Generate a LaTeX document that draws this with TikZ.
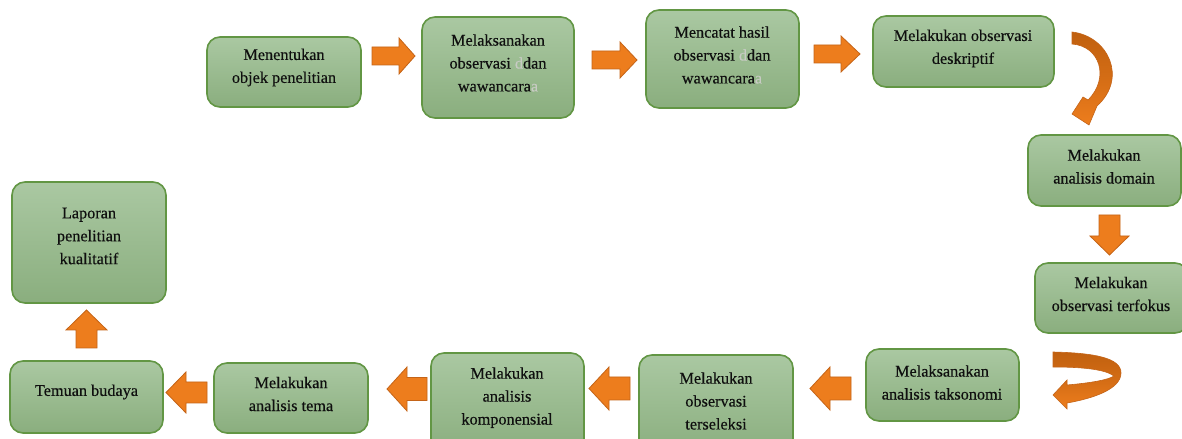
\documentclass[tikz,border=0pt]{standalone}
\usepackage{fontspec}
\setmainfont{Liberation Serif}
\newfontfamily\boxfont{Liberation Serif}[FakeBold=0.35]
\usetikzlibrary{calc}
\definecolor{boxtop}{RGB}{170,200,162}
\definecolor{boxbot}{RGB}{138,174,126}
\definecolor{boxline}{RGB}{98,150,68}
\definecolor{arrfill}{RGB}{237,125,29}
\definecolor{arrline}{RGB}{196,100,24}
\definecolor{arrdark}{RGB}{192,96,15}
\definecolor{txt}{RGB}{15,15,15}
\definecolor{ghost}{RGB}{200,203,196}
\newcommand\ghostch[1]{\textcolor{ghost}{#1}}
\begin{document}
\begin{tikzpicture}[x=1bp,y=-1bp,
 box/.style={draw=boxline, line width=1.6bp, rounded corners=13bp, top color=boxtop, bottom color=boxbot, inner sep=0pt},
 lbl/.style={text=txt, font=\boxfont\fontsize{16.3}{23}\selectfont, align=center, inner sep=0pt},
 arrowstyle/.style={draw=arrline, line width=0.8bp, fill=arrfill, line join=miter},
 curvestyle/.style={draw=arrline, line width=0.6bp, top color=arrdark, bottom color=arrfill, middle color=arrdark!55!arrfill},
 pics/barrow/.style n args={4}{code={\draw[arrowstyle] (0,0) -- (-#4,#2/2) -- (-#4,#3/2) -- (-#1,#3/2) -- (-#1,-#3/2) -- (-#4,-#3/2) -- (-#4,-#2/2) -- cycle;}}
]
\useasboundingbox (0,0) rectangle (1182,439);
\fill[white] (0,0) rectangle (1182,439);

% boxes
\node[box, minimum width=154bp, minimum height=70bp]  (b1)  at (284,72)     {};
\node[box, minimum width=152bp, minimum height=101bp] (b2)  at (498,67.5)   {};
\node[box, minimum width=153bp, minimum height=98bp]  (b3)  at (722.5,59)   {};
\node[box, minimum width=181bp, minimum height=71bp]  (b4)  at (963.5,51.5) {};
\node[box, minimum width=153bp, minimum height=71bp]  (b5)  at (1104.5,170.5) {};
\node[box, minimum width=153bp, minimum height=70bp]  (b6)  at (1111.5,298) {};
\node[box, minimum width=153bp, minimum height=72bp]  (b7)  at (942.5,385)  {};
\node[box, minimum width=154bp, minimum height=100bp] (b8)  at (716,405)    {};
\node[box, minimum width=153bp, minimum height=100bp] (b9)  at (507.5,403)  {};
\node[box, minimum width=154bp, minimum height=70bp]  (b10) at (291,398)    {};
\node[box, minimum width=153bp, minimum height=72bp]  (b11) at (86.5,397)   {};
\node[box, minimum width=154bp, minimum height=121bp] (b12) at (89,242.5)   {};

% labels
\node[lbl] (l1)  at (284,67.5)  {Menentukan\\objek penelitian};
\node[lbl] (l2)  at (498,63)    {Melaksanakan\\observasi \ghostch{d}dan\\wawancara\ghostch{a}};
\node[lbl] (l3)  at (722,55)    {Mencatat hasil\\observasi \ghostch{d}dan\\wawancara\ghostch{a}};
\node[lbl] (l4)  at (963,48.5)  {Melakukan observasi\\deskriptif};
\node[lbl] (l5)  at (1104,166.5){Melakukan\\analisis domain};
\node[lbl] (l6)  at (1111,294)  {Melakukan\\observasi terfokus};
\node[lbl] (l7)  at (942,382.5) {Melaksanakan\\analisis taksonomi};
\node[lbl] (l8)  at (716,401)   {Melakukan\\observasi\\terseleksi};
\node[lbl] (l9)  at (507,397.7) {Melakukan\\analisis\\komponensial};
\node[lbl] (l10) at (291,394)   {Melakukan\\analisis tema};
\node[lbl] (l11) at (86.5,392)  {Temuan budaya};
\node[lbl] (l12) at (89,236)    {Laporan\\penelitian\\kualitatif};

% straight block arrows
\pic at (415,56) {barrow={43}{36}{18}{16}};
\pic at (637,60) {barrow={45}{36}{18}{17}};
\pic at (860,54) {barrow={46}{36}{18}{19}};
\pic[rotate=-90] at (1109.5,255) {barrow={40}{39}{21}{19}};
\pic[rotate=180] at (810,388.5) {barrow={41}{43}{23}{20}};
\pic[rotate=180] at (589,388.5) {barrow={41}{43}{23}{20}};
\pic[rotate=180] at (387,389)   {barrow={40}{44}{23}{20}};
\pic[rotate=180] at (166,392.5) {barrow={41}{41}{21}{20}};
\pic[rotate=90]  at (86.5,310)  {barrow={38}{41}{21}{20}};

% curved arrows
\draw[curvestyle] (1072,32) .. controls (1108,36) and (1128,78) .. (1097,106)
  -- (1089,125) -- (1072,114) -- (1083,97) -- (1088,100)
  .. controls (1110,78) and (1100,46) .. (1072,44) -- cycle;
\draw[curvestyle] (1053,352) .. controls (1095,353) and (1121,358) .. (1121,373)
  .. controls (1121,390) and (1090,399) .. (1067,403)
  -- (1067,409) -- (1053,395) -- (1067,380) -- (1067,385)
  .. controls (1090,383) and (1108,380) .. (1114,376)
  .. controls (1105,369) and (1080,367) .. (1053,367) -- cycle;
\end{tikzpicture}
\end{document}
